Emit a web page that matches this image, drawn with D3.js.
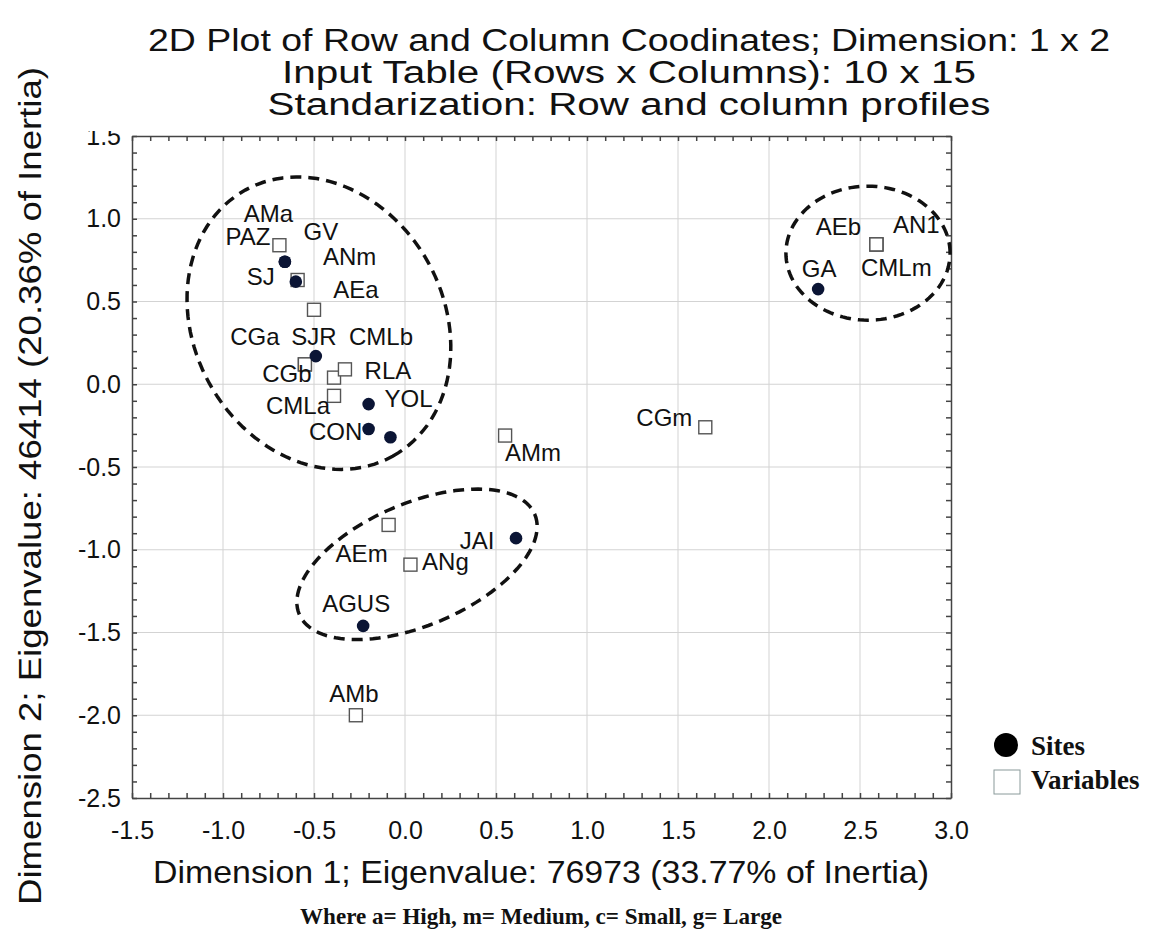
<!DOCTYPE html>
<head>
<meta charset="utf-8">
<script src="https://d3js.org/d3.v7.min.js"></script>
</head>
<style>
body { margin: 0; background: #fff; }
text { font-family: "Liberation Sans", Arial, sans-serif; fill: #111; }
.grid line { stroke: #d3d3d3; stroke-width: 1px; }
.axis path, .axis line { stroke: #444; stroke-width: 1.5px; }
.axis text { font-size: 25px; fill: #111; }
.ring { fill: none; stroke: #111; stroke-width: 3.5px; stroke-dasharray: 11,7; }
.lbl { font-size: 24px; }
.serif { font-family: "Liberation Serif", "Times New Roman", serif; font-weight: bold; }
</style>
<body>
<script>
// sites (row points, filled dots)
var siteNames = ["GV", "PAZ", "SJ", "SJR", "YOL", "CON", "", "JAI", "AGUS", "GA"];
var siteDim1  = [-0.66, -0.66, -0.60, -0.49, -0.20, -0.20, -0.08, 0.61, -0.23, 2.27];
var siteDim2  = [ 0.74,  0.74,  0.62,  0.17, -0.12, -0.27, -0.32, -0.93, -1.46, 0.575];

// variables (column points, open squares)
var varNames = ["AMa", "ANm", "AEa", "CGa", "CGb", "CMLb", "RLA", "CMLa", "AMm", "CGm", "AEm", "ANg", "AMb", "AEb", "AN1", "CMLm"];
var varDim1  = [-0.69, -0.59, -0.50, -0.55, -0.55, -0.39, -0.33, -0.39, 0.55, 1.65, -0.09, 0.03, -0.27, 2.59, 2.59, 2.59];
var varDim2  = [ 0.84,  0.63,  0.45,  0.12,  0.12,  0.04,  0.09, -0.07, -0.31, -0.26, -0.85, -1.09, -2.0, 0.845, 0.845, 0.845];

var xTicks = [-1.5, -1.0, -0.5, 0.0, 0.5, 1.0, 1.5, 2.0, 2.5, 3.0];
var yTicks = [-2.5, -2.0, -1.5, -1.0, -0.5, 0.0, 0.5, 1.0, 1.5];

var titleLines = ["2D Plot of Row and Column Coodinates; Dimension: 1 x 2",
                  "Input Table (Rows x Columns): 10 x 15",
                  "Standarization: Row and column profiles"];

// label placement (px, relative to the point)
var siteLabelOff = {GV:[36,-30], PAZ:[-37,-25], SJ:[-35,-5], SJR:[-2,-20], YOL:[40,-6], CON:[-33,3], JAI:[-39,2], AGUS:[-7,-22], GA:[1,-21]};
var varLabelOff = {AMa:[-11,-32], ANm:[52,-23], AEa:[42,-20], CGa:[-50,-28], CGb:[-18,9], CMLb:[47,-41], RLA:[43,1], CMLa:[-36,10],
                   AMm:[28,17], CGm:[-41,-10], AEm:[-27,29], ANg:[35,-3], AMb:[-2,-22], AEb:[-38,-18], AN1:[40,-20], CMLm:[20,23]};

// dashed group outlines: centre + two half-axis vectors, in data units
var rings = [
  {c:[-0.473, 0.369], u:[0.405, -0.804], v:[0.601, 0.366]},
  {c:[2.544, 0.792], u:[0.451, 0], v:[0, 0.405]},
  {c:[0.066, -1.088], u:[0.647, 0.302], v:[0.131, -0.340]}
];

var W = 1150, H = 941;
var x = d3.scaleLinear().domain([-1.5, 3.0]).range([132, 951]);
var y = d3.scaleLinear().domain([-2.5, 1.5]).range([798, 136]);

var svg = d3.select("body").append("svg").attr("width", W).attr("height", H);

svg.append("rect").attr("x", x(-1.5)).attr("y", y(1.5))
   .attr("width", x(3) - x(-1.5)).attr("height", y(-2.5) - y(1.5)).attr("fill", "#fff");

// grid
var grid = svg.append("g").attr("class", "grid");
grid.selectAll(".gx").data(xTicks.slice(1, -1)).enter().append("line")
    .attr("x1", d => x(d)).attr("x2", d => x(d)).attr("y1", y(1.5)).attr("y2", y(-2.5));
grid.selectAll(".gy").data(yTicks.slice(1, -1)).enter().append("line")
    .attr("y1", d => y(d)).attr("y2", d => y(d)).attr("x1", x(-1.5)).attr("x2", x(3));

// axes with small inward ticks every 0.1
var minorX = d3.range(-15, 31).map(d => d / 10);
var minorY = d3.range(-25, 16).map(d => d / 10);

svg.append("g").attr("class", "axis").attr("transform", "translate(0," + y(-2.5) + ")")
   .call(d3.axisBottom(x).tickValues(minorX).tickSize(-5).tickSizeOuter(0).tickFormat(""));
svg.append("g").attr("class", "axis").attr("transform", "translate(0," + y(1.5) + ")")
   .call(d3.axisTop(x).tickValues(minorX).tickSize(-5).tickSizeOuter(0).tickFormat(""));
svg.append("g").attr("class", "axis").attr("transform", "translate(" + x(-1.5) + ",0)")
   .call(d3.axisLeft(y).tickValues(minorY).tickSize(-5).tickSizeOuter(0).tickFormat(""));
svg.append("g").attr("class", "axis").attr("transform", "translate(" + x(3) + ",0)")
   .call(d3.axisRight(y).tickValues(minorY).tickSize(-5).tickSizeOuter(0).tickFormat(""));

var fmt = d => d3.format(".1f")(d).replace("−", "-");
var xl = svg.append("g").attr("class", "axis").attr("transform", "translate(0," + y(-2.5) + ")")
   .call(d3.axisBottom(x).tickValues(xTicks).tickSize(0).tickPadding(18).tickFormat(fmt));
xl.select(".domain").remove();
xl.selectAll("text").attr("dy", "0.9em");
var yl = svg.append("g").attr("class", "axis").attr("transform", "translate(" + x(-1.5) + ",0)")
   .call(d3.axisLeft(y).tickValues(yTicks).tickSize(0).tickPadding(11).tickFormat(fmt));
yl.select(".domain").remove();

// dashed outlines
var ringLine = d3.line().curve(d3.curveLinearClosed);
svg.selectAll(".ring").data(rings).enter().append("path")
   .attr("class", "ring")
   .attr("d", r => ringLine(d3.range(0, 120).map(function(i) {
       var t = i / 120 * 2 * Math.PI;
       return [x(r.c[0] + r.u[0] * Math.cos(t) + r.v[0] * Math.sin(t)),
               y(r.c[1] + r.u[1] * Math.cos(t) + r.v[1] * Math.sin(t))];
   })));

// points
var vars = varNames.map((n, i) => ({name: n, a: varDim1[i], b: varDim2[i]}));
var sites = siteNames.map((n, i) => ({name: n, a: siteDim1[i], b: siteDim2[i]}));

svg.selectAll(".vpt").data(vars).enter().append("rect")
   .attr("x", d => x(d.a) - 6.5).attr("y", d => y(d.b) - 6.5)
   .attr("width", 13).attr("height", 13)
   .attr("fill", "#fff").attr("stroke", "#555").attr("stroke-width", 1.4);
svg.selectAll(".spt").data(sites).enter().append("circle")
   .attr("cx", d => x(d.a)).attr("cy", d => y(d.b)).attr("r", 6.3)
   .attr("fill", "#0b1535");

svg.selectAll(".vl").data(vars).enter().append("text").attr("class", "lbl")
   .attr("x", d => x(d.a) + varLabelOff[d.name][0]).attr("y", d => y(d.b) + varLabelOff[d.name][1])
   .attr("text-anchor", "middle").attr("dominant-baseline", "central").text(d => d.name);
svg.selectAll(".sl").data(sites.filter(d => d.name)).enter().append("text").attr("class", "lbl")
   .attr("x", d => x(d.a) + siteLabelOff[d.name][0]).attr("y", d => y(d.b) + siteLabelOff[d.name][1])
   .attr("text-anchor", "middle").attr("dominant-baseline", "central").text(d => d.name);

// title block (covers top of the "1.5" label like the original)
svg.append("rect").attr("x", 85).attr("y", 0).attr("width", W - 85).attr("height", 131).attr("fill", "#fff");
var titleW = [962, 694, 723];
titleLines.forEach(function(t, i) {
  svg.append("text").attr("x", 629).attr("y", 40 + i * 32)
     .attr("text-anchor", "middle").attr("dominant-baseline", "central")
     .attr("font-size", 31).attr("textLength", titleW[i]).attr("lengthAdjust", "spacingAndGlyphs")
     .text(t);
});

// axis titles
svg.append("text").attr("x", 541).attr("y", 872)
   .attr("text-anchor", "middle").attr("dominant-baseline", "central")
   .attr("font-size", 32).attr("textLength", 776).attr("lengthAdjust", "spacingAndGlyphs")
   .text("Dimension 1; Eigenvalue: 76973 (33.77% of Inertia)");
svg.append("text").attr("transform", "translate(30,486) rotate(-90)")
   .attr("text-anchor", "middle").attr("dominant-baseline", "central")
   .attr("font-size", 32).attr("textLength", 838).attr("lengthAdjust", "spacingAndGlyphs")
   .text("Dimension 2; Eigenvalue: 46414 (20.36% of Inertia)");

svg.append("text").attr("class", "serif").attr("x", 541).attr("y", 916)
   .attr("text-anchor", "middle").attr("dominant-baseline", "central")
   .attr("font-size", 23).attr("textLength", 482).attr("lengthAdjust", "spacingAndGlyphs")
   .text("Where a= High, m= Medium, c= Small, g= Large");

// legend
var legend = svg.append("g").attr("transform", "translate(993,733)");
legend.append("circle").attr("cx", 13).attr("cy", 12).attr("r", 12).attr("fill", "#000");
legend.append("rect").attr("x", 1).attr("y", 37).attr("width", 26).attr("height", 24)
   .attr("fill", "#fff").attr("stroke", "#8a9a9a").attr("stroke-width", 1);
legend.append("text").attr("class", "serif").attr("x", 38).attr("y", 13)
   .attr("dominant-baseline", "central").attr("font-size", 27).text("Sites");
legend.append("text").attr("class", "serif").attr("x", 38).attr("y", 47)
   .attr("dominant-baseline", "central").attr("font-size", 27).text("Variables");
</script>
</body>
